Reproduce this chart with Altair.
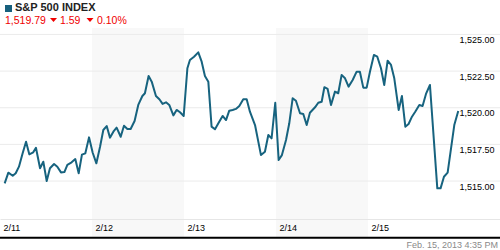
import altair as alt
import pandas as pd

# ---- data ----
day_labels = ["2/11", "2/12", "2/13", "2/14", "2/15"]
day_start = [0, 6.5, 13, 19.5, 26]          # session hours since 2/11 open
session_len = 6.5
shaded_days = ["2/12", "2/14"]

hours = [
    0.33, 0.59, 0.90, 1.11, 1.34, 1.60, 1.84, 2.07, 2.35, 2.54, 2.83, 3.06, 3.30,
    3.53, 3.82, 4.05, 4.31, 4.55, 4.76, 5.06, 5.32, 5.56, 5.79, 6.03, 6.29,
    6.55, 6.81, 7.07, 7.30, 7.54, 7.77, 8.01, 8.24, 8.53, 8.76, 9.00, 9.23, 9.51,
    9.77, 10.06, 10.24, 10.50, 10.72, 11.02, 11.26, 11.49, 11.73, 11.96, 12.25,
    12.48, 12.72, 12.98,
    13.24, 13.42, 13.71, 14.01, 14.25, 14.48, 14.72, 14.95, 15.19, 15.43, 15.73,
    15.97, 16.20, 16.44, 16.67, 16.91, 17.19, 17.43, 17.66, 18.02, 18.44, 18.72,
    18.96, 19.19,
    19.45, 19.69, 19.92, 20.21, 20.44, 20.68, 20.91, 21.20, 21.43, 21.67, 21.90,
    22.26, 22.49, 22.73, 22.92, 23.15, 23.39, 23.67, 23.90, 24.14, 24.38, 24.63,
    24.92, 25.20, 25.43, 25.67, 25.91,
    26.14, 26.42, 26.66, 26.92, 27.15, 27.39, 27.63, 27.86, 28.17, 28.40, 28.64,
    28.87, 29.11, 29.34, 29.63, 29.86, 30.10, 30.38, 30.90, 31.13, 31.37, 31.63,
    32.10, 32.38,
]
prices = [
    1514.84, 1515.57, 1515.36, 1515.53, 1515.98, 1516.89, 1517.68, 1516.82, 1516.96,
    1517.27, 1515.87, 1516.32, 1515.00, 1515.87, 1516.16, 1515.98, 1515.59, 1515.61,
    1516.11, 1516.28, 1516.50, 1515.53, 1516.80, 1516.89, 1517.98,
    1516.93, 1516.21, 1517.34, 1518.48, 1518.75, 1517.96, 1518.37, 1518.64, 1518.02,
    1518.77, 1518.55, 1518.55, 1519.10, 1520.19, 1520.80, 1520.99, 1522.17, 1521.78,
    1520.80, 1520.58, 1520.26, 1520.37, 1520.19, 1519.48, 1519.85, 1519.69, 1519.44,
    1522.69, 1523.26, 1523.48, 1523.78, 1523.14, 1522.17, 1521.78, 1518.71, 1518.53,
    1518.94, 1519.44, 1519.16, 1519.80, 1519.85, 1519.92, 1520.12, 1520.58, 1520.58,
    1519.73, 1518.82, 1516.77, 1517.00, 1518.14, 1517.91,
    1520.34, 1516.43, 1516.77, 1517.80, 1518.94, 1520.65, 1520.48, 1519.62, 1519.57,
    1518.82, 1519.66, 1520.03, 1520.34, 1520.41, 1521.40, 1521.28, 1520.19, 1521.10,
    1520.99, 1522.24, 1522.01, 1521.44, 1521.89, 1522.46, 1522.46, 1521.37, 1521.37,
    1522.46, 1523.60, 1523.48, 1522.69, 1521.55, 1523.21, 1522.92, 1522.01, 1519.85,
    1520.80, 1518.71, 1518.89, 1519.39, 1519.73, 1520.19, 1520.12, 1520.94, 1521.55,
    1514.50, 1514.50, 1515.29, 1515.57, 1518.82, 1519.78,
]
y_ticks = [1515, 1517.5, 1520, 1522.5, 1525]

title_text = "S&P 500 INDEX"
last_text = "1,519.79"
chg_text = "1.59"
pct_text = "0.10%"
stamp_text = "Feb. 15, 2013 4:35 PM"

# ---- tables ----
line_df = pd.DataFrame({"t": hours, "p": prices})
band_df = pd.DataFrame({"s": [day_start[day_labels.index(d)] for d in shaded_days]})
band_df["e"] = band_df["s"] + session_len
grid_df = pd.DataFrame({"v": y_ticks})
one = pd.DataFrame({"k": [0]})

FONT = "Liberation Sans"
LINE_COLOR = "#17637f"
RED = "#f00000"

xs = alt.Scale(domain=[0, 35.33], nice=False, zero=False)
ys = alt.Scale(domain=[1512.41, 1525.44], nice=False, zero=False)

label_arr = "[" + ",".join("'%s'" % d for d in day_labels) + "]"
xaxis = alt.Axis(
    values=day_start, labelExpr=f"{label_arr}[round(datum.value/{session_len})]",
    orient="bottom", grid=False, ticks=False, domain=True, domainColor="#e6e6e6",
    domainWidth=1, labelAlign="left", labelBaseline="top", labelPadding=4,
    labelOffset=3, labelFont=FONT, labelFontSize=9, labelColor="#000",
    title=None, zindex=1, labelFlush=False, labelOverlap=False,
)
yaxis = alt.Axis(
    values=y_ticks, format=",.2f", orient="right", grid=False, ticks=False,
    domain=False, labelAlign="left", labelBaseline="top", labelPadding=-41,
    labelOffset=1, labelFont=FONT, labelFontSize=9, labelColor="#000",
    title=None, zindex=1, labelFlush=False, labelOverlap=False,
)

bands = alt.Chart(band_df).mark_rect(fill="#f8f8f8", opacity=1, strokeWidth=0).encode(
    x=alt.X("s:Q", scale=xs, axis=xaxis), x2="e:Q",
    y=alt.value(0), y2=alt.value(209),
)
grid = alt.Chart(grid_df).mark_rule(color="#ebebeb", strokeWidth=1).encode(
    y=alt.Y("v:Q", scale=ys, axis=yaxis), x=alt.value(0), x2=alt.value(500),
)
line = alt.Chart(line_df).mark_line(color=LINE_COLOR, strokeWidth=2, strokeJoin="round").encode(
    x=alt.X("t:Q", scale=xs, axis=xaxis),
    y=alt.Y("p:Q", scale=ys, axis=yaxis),
)

square = alt.Chart(one).mark_rect(color="#17607d").encode(
    x=alt.value(5), x2=alt.value(12), y=alt.value(-23), y2=alt.value(-16))
title = alt.Chart(one).mark_text(
    align="left", baseline="middle", font=FONT, fontSize=11, fontWeight="bold", color="#222"
).encode(x=alt.value(15), y=alt.value(-20), text=alt.value(title_text))

def red_text(txt, x):
    return alt.Chart(one).mark_text(
        align="left", baseline="middle", font=FONT, fontSize=10.5, color=RED
    ).encode(x=alt.value(x), y=alt.value(-7), text=alt.value(txt))

tri_path = "M-1,-0.55L1,-0.55L0,0.55Z"
def tri(x):
    return alt.Chart(one).mark_point(
        shape=tri_path, filled=True, color=RED, opacity=1, size=49
    ).encode(x=alt.value(x), y=alt.value(-8))

rule = alt.Chart(one).mark_rule(color="#000", strokeWidth=2).encode(
    x=alt.value(0), x2=alt.value(500), y=alt.value(209.7))
stamp = alt.Chart(one).mark_text(
    align="right", baseline="middle", font=FONT, fontSize=9, color="#8a8a8a"
).encode(x=alt.value(498), y=alt.value(217), text=alt.value(stamp_text))

chart = alt.layer(
    bands, grid, line, square, title,
    red_text(last_text, 5), tri(53.5), red_text(chg_text, 60),
    tri(90), red_text(pct_text, 97), rule, stamp,
).properties(
    width=500, height=191,
    autosize=alt.AutoSizeParams(type="none"),
    padding={"left": 0, "top": 28, "right": 0, "bottom": 31},
    background="white",
).configure_view(stroke=None)

chart.save("out.html", embed_options={"renderer": "svg", "actions": False})
